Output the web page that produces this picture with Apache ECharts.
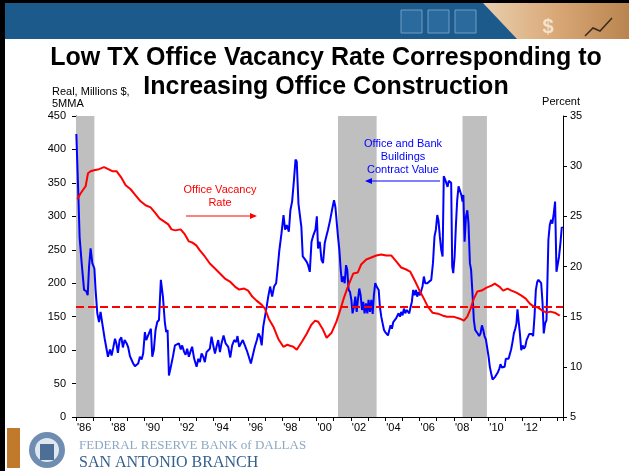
<!DOCTYPE html>
<html>
<head>
<meta charset="utf-8">
<script src="https://cdn.jsdelivr.net/npm/echarts@6/dist/echarts.min.js"></script>
<style>
  html, body { margin: 0; padding: 0; background: #fff; }
  #chart { width: 629px; height: 471px; }
</style>
</head>
<body>
<div id="chart"></div>
<script>
// years are offsets from Jan 1986
const START_YEAR = 1986;

// Office and bank buildings contract value, real millions $, 5MMA (left axis)
const contractT = [
  0.02, 0.14, 0.21, 0.33, 0.47, 0.6, 0.68, 0.76, 0.85, 0.95, 1.07, 1.14, 1.24, 1.34, 1.43, 1.53, 1.67, 1.76, 1.86, 1.98,
  2.07, 2.17, 2.27, 2.35, 2.44, 2.54, 2.64, 2.73, 2.83, 2.95, 3.04, 3.14, 3.24, 3.33, 3.43, 3.53, 3.62, 3.72, 3.82, 3.91,
  4.01, 4.09, 4.17, 4.28, 4.36, 4.44, 4.53, 4.63, 4.73, 4.83, 4.94, 5.06, 5.17, 5.25, 5.33, 5.41, 5.52, 5.64, 5.76, 5.87,
  5.99, 6.1, 6.18, 6.3, 6.38, 6.47, 6.57, 6.69, 6.76, 6.88, 7.02, 7.12, 7.21, 7.31, 7.41, 7.5, 7.6, 7.7, 7.79, 7.89,
  7.99, 8.09, 8.18, 8.28, 8.38, 8.47, 8.59, 8.71, 8.78, 8.86, 8.98, 9.09, 9.21, 9.33, 9.4, 9.5, 9.6, 9.71, 9.83, 9.95,
  10.06, 10.18, 10.29, 10.41, 10.53, 10.62, 10.72, 10.81, 10.9, 11.0, 11.1, 11.19, 11.3, 11.42, 11.53, 11.65, 11.73, 11.84, 11.96, 12.08,
  12.17, 12.27, 12.39, 12.48, 12.58, 12.68, 12.78, 12.85, 12.95, 13.05, 13.12, 13.2, 13.32, 13.43, 13.51, 13.61, 13.71, 13.82, 13.94, 14.02,
  14.09, 14.19, 14.29, 14.38, 14.48, 14.57, 14.67, 14.79, 14.9, 15.02, 15.1, 15.17, 15.25, 15.33, 15.41, 15.48, 15.56, 15.64, 15.72, 15.79,
  15.87, 15.95, 16.03, 16.1, 16.18, 16.26, 16.34, 16.41, 16.49, 16.57, 16.65, 16.72, 16.8, 16.88, 16.96, 17.03, 17.11, 17.19, 17.27, 17.34,
  17.42, 17.5, 17.62, 17.69, 17.77, 17.85, 17.93, 18.0, 18.08, 18.16, 18.24, 18.31, 18.39, 18.47, 18.55, 18.62, 18.7, 18.78, 18.86, 18.93,
  19.01, 19.09, 19.17, 19.24, 19.32, 19.4, 19.48, 19.55, 19.63, 19.71, 19.79, 19.86, 19.94, 20.02, 20.1, 20.17, 20.25, 20.33, 20.45, 20.56,
  20.68, 20.78, 20.87, 20.95, 21.03, 21.1, 21.18, 21.26, 21.34, 21.41, 21.49, 21.57, 21.63, 21.7, 21.78, 21.84, 21.9, 21.96, 22.04, 22.12,
  22.19, 22.27, 22.35, 22.43, 22.5, 22.55, 22.62, 22.7, 22.78, 22.85, 22.93, 23.0, 23.09, 23.16, 23.24, 23.32, 23.4, 23.47, 23.55, 23.63,
  23.71, 23.78, 23.86, 23.94, 24.02, 24.09, 24.17, 24.25, 24.33, 24.4, 24.48, 24.56, 24.64, 24.71, 24.79, 24.87, 24.95, 25.02, 25.1, 25.18,
  25.26, 25.33, 25.41, 25.49, 25.57, 25.64, 25.7, 25.76, 25.84, 25.92, 26.0, 26.07, 26.15, 26.23, 26.3, 26.38, 26.46, 26.54, 26.61, 26.69,
  26.77, 26.85, 26.92, 27.0, 27.08, 27.16, 27.23, 27.31, 27.39, 27.46, 27.5, 27.58, 27.66, 27.73, 27.81, 27.89, 27.97, 28.05, 28.12, 28.2,
  28.28, 28.34
];
const contractVal = [
  423, 329, 269, 230, 190, 188, 182, 225, 252, 230, 222, 190, 155, 142, 157, 140, 117, 115, 90, 101,
  92, 104, 117, 110, 96, 115, 119, 104, 115, 110, 104, 91, 89, 80, 76, 74, 80, 90, 86, 95,
  127, 115, 120, 121, 132, 90, 100, 130, 142, 145, 205, 180, 142, 127, 130, 62, 75, 90, 107, 106,
  110, 101, 107, 97, 93, 102, 90, 100, 105, 87, 75, 87, 82, 95, 90, 82, 97, 95, 102, 120,
  107, 95, 105, 115, 97, 110, 122, 110, 112, 105, 89, 107, 115, 112, 121, 105, 110, 115, 107, 99,
  90, 80, 79, 105, 115, 125, 120, 107, 135, 150, 165, 180, 195, 180, 195, 200, 220, 250, 274, 302,
  280, 287, 277, 309, 322, 352, 385, 382, 319, 317, 284, 240, 236, 232, 227, 217, 262, 272, 280, 300,
  252, 262, 235, 230, 260, 270, 280, 294, 309, 324, 314, 315, 270, 250, 220, 202, 210, 200, 227, 220,
  190, 187, 175, 155, 165, 180, 157, 175, 192, 182, 160, 172, 155, 170, 155, 175, 157, 175, 154, 182,
  200, 195, 190, 165, 150, 140, 130, 127, 125, 122, 130, 137, 132, 142, 140, 147, 145, 155, 150, 157,
  152, 162, 155, 160, 160, 155, 165, 172, 190, 182, 190, 180, 187, 182, 180, 195, 210, 200, 200, 202,
  205, 230, 270, 280, 302, 294, 270, 250, 240, 360, 355, 357, 344, 353, 352, 350, 225, 215, 240, 289,
  324, 345, 344, 332, 322, 332, 262, 299, 309, 289, 230, 220, 180, 145, 130, 127, 124, 121, 125, 137,
  130, 121, 116, 115, 90, 75, 65, 56, 55, 60, 62, 67, 72, 79, 74, 76, 75, 87, 89, 87,
  87, 101, 112, 125, 132, 140, 161, 145, 125, 100, 107, 102, 105, 115, 117, 124, 122, 124, 121, 150,
  190, 202, 205, 205, 200, 170, 125, 140, 145, 144, 265, 287, 295, 289, 304, 322, 217, 217, 240, 260,
  284, 282
];

// Texas office vacancy rate, percent (right axis)
const vacancyT = [
  0.08, 0.27, 0.56, 0.7, 0.85, 1.05, 1.34, 1.63, 1.88, 2.11, 2.36, 2.66, 2.89, 3.18, 3.47, 3.76, 4.05, 4.34, 4.59, 4.86,
  5.12, 5.37, 5.56, 5.79, 6.09, 6.34, 6.57, 6.76, 7.0, 7.21, 7.5, 7.79, 8.09, 8.38, 8.67, 8.96, 9.25, 9.5, 9.79, 10.02,
  10.26, 10.51, 10.8, 11.0, 11.22, 11.49, 11.77, 12.07, 12.3, 12.46, 12.65, 12.85, 13.15, 13.43, 13.7, 13.92, 14.1, 14.35, 14.59, 14.88,
  15.16, 15.37, 15.6, 15.85, 16.14, 16.4, 16.6, 16.9, 17.19, 17.48, 17.77, 18.06, 18.35, 18.64, 18.93, 19.22, 19.45, 19.75, 20.0, 20.25,
  20.48, 20.75, 21.07, 21.36, 21.61, 21.96, 22.35, 22.58, 22.78, 22.97, 23.16, 23.36, 23.61, 23.9, 24.19, 24.38, 24.64, 24.87, 25.12, 25.35,
  25.64, 25.93, 26.18, 26.42, 26.65, 26.9, 27.15, 27.39, 27.62, 27.87, 28.16
];
const vacancyVal = [
  26.7, 27.3, 28.0, 29.3, 29.5, 29.6, 29.7, 29.9, 29.7, 29.5, 29.5, 28.8, 28.1, 27.7, 27.1, 26.5, 26.1, 25.9, 25.4, 24.8,
  24.5, 24.2, 23.7, 23.6, 23.7, 23.2, 22.5, 22.4, 22.1, 21.6, 21.0, 20.3, 19.8, 19.3, 18.8, 18.5, 18.0, 17.7, 17.8, 17.6,
  17.0, 16.6, 16.2, 15.8, 14.8, 14.0, 12.8, 12.0, 12.2, 12.1, 12.0, 11.7, 12.5, 13.3, 14.2, 14.6, 14.5, 13.8, 12.9, 13.4,
  14.5, 15.6, 16.9, 18.1, 19.3, 19.4, 20.2, 20.7, 20.9, 21.1, 21.2, 21.1, 21.1, 20.5, 19.9, 19.7, 19.5, 18.5, 17.6, 16.8,
  16.0, 15.4, 15.3, 15.1, 15.0, 15.0, 14.8, 14.6, 15.0, 15.8, 16.8, 17.5, 17.6, 17.9, 18.1, 18.3, 18.0, 17.6, 17.8, 17.6,
  17.4, 17.1, 16.8, 16.3, 16.0, 15.9, 15.6, 15.4, 15.5, 15.4, 15.1
];

const avgVacancy = 16;

// shaded recession periods
const recessionStart = [0, 15.25, 22.5];
const recessionEnd = [1.07, 17.5, 23.92];

const FONT = '"Liberation Sans", Arial, sans-serif';

const chart = echarts.init(document.getElementById('chart'));

const contractData = contractT.map((t, i) => [START_YEAR + t, contractVal[i]]);
const vacancyData = vacancyT.map((t, i) => [START_YEAR + t, vacancyVal[i]]);
const bands = recessionStart.map((s, i) => [
  { xAxis: START_YEAR + s },
  { xAxis: START_YEAR + recessionEnd[i] }
]);

function txt(text, x, y, color, size, align, weight, family) {
  return {
    type: 'text',
    z: 50,
    style: {
      text,
      x,
      y,
      fill: color,
      font: (weight || 'normal') + ' ' + size + 'px ' + (family || FONT),
      textAlign: align || 'center',
      textVerticalAlign: 'middle'
    }
  };
}

function arrow(x1, x2, y, color) {
  const dir = x2 > x1 ? 1 : -1;
  return [
    { type: 'line', z: 50, shape: { x1, y1: y, x2: x2 - dir * 5, y2: y }, style: { stroke: color, lineWidth: 1 } },
    {
      type: 'polygon', z: 50,
      shape: { points: [[x2, y], [x2 - dir * 7, y - 3], [x2 - dir * 7, y + 3]] },
      style: { fill: color }
    }
  ];
}

const graphics = [
  // slide banner
  { type: 'rect', z: 40, shape: { x: 0, y: 0, width: 629, height: 39 }, style: { fill: '#1c5a8b' } },
  {
    type: 'polygon', z: 41,
    shape: { points: [[483, 3], [629, 3], [629, 39], [517, 39]] },
    style: {
      fill: new echarts.graphic.LinearGradient(0, 0, 1, 0, [
        { offset: 0, color: '#e9cfae' },
        { offset: 0.5, color: '#d9a877' },
        { offset: 1, color: '#b9844f' }
      ])
    }
  },
  { type: 'rect', z: 42, shape: { x: 401, y: 10, width: 21, height: 23 }, style: { fill: '#2b6a9c', stroke: '#6f9cc6', lineWidth: 1 } },
  { type: 'rect', z: 42, shape: { x: 428, y: 10, width: 21, height: 23 }, style: { fill: '#2b6a9c', stroke: '#6f9cc6', lineWidth: 1 } },
  { type: 'rect', z: 42, shape: { x: 455, y: 10, width: 21, height: 23 }, style: { fill: '#2b6a9c', stroke: '#6f9cc6', lineWidth: 1 } },
  txt('$', 548, 27, '#f4e3cc', 20, 'center', 'bold'),
  { type: 'polyline', z: 42, shape: { points: [[585, 36], [593, 28], [600, 31], [612, 18]] }, style: { stroke: '#3a2a1a', lineWidth: 1.5, fill: null } },
  { type: 'rect', z: 40, shape: { x: 0, y: 0, width: 629, height: 3 }, style: { fill: '#000' } },
  { type: 'rect', z: 40, shape: { x: 0, y: 0, width: 5, height: 471 }, style: { fill: '#000' } },

  // title
  txt('Low TX Office Vacancy Rate Corresponding to', 326, 58, '#000', 25, 'center', 'bold'),
  txt('Increasing Office Construction', 326, 87, '#000', 25, 'center', 'bold'),

  // axis names
  txt('Real, Millions $,', 52, 92, '#000', 11, 'left'),
  txt('5MMA', 52, 104, '#000', 11, 'left'),
  txt('Percent', 580, 102, '#000', 11, 'right'),

  // annotations
  txt('Office Vacancy', 220, 190, '#ff0000', 11),
  txt('Rate', 220, 203, '#ff0000', 11),
  ...arrow(186, 257, 216, '#ff0000'),
  txt('Office and Bank', 403, 144, '#0000ff', 11),
  txt('Buildings', 403, 157, '#0000ff', 11),
  txt('Contract Value', 403, 170, '#0000ff', 11),
  ...arrow(440, 365, 181, '#0000ff'),

  // footer
  { type: 'rect', z: 40, shape: { x: 7, y: 428, width: 13, height: 40 }, style: { fill: '#c17a2c' } },
  { type: 'circle', z: 40, shape: { cx: 47, cy: 450, r: 18 }, style: { fill: '#6f8db0' } },
  { type: 'circle', z: 41, shape: { cx: 47, cy: 450, r: 12 }, style: { fill: '#dfe7f0' } },
  { type: 'rect', z: 42, shape: { x: 40, y: 444, width: 14, height: 16 }, style: { fill: '#4d6f96' } },
  txt('FEDERAL RESERVE BANK of DALLAS', 79, 446, '#8ca7c4', 13, 'left', 'normal', '"Liberation Serif", serif'),
  txt('SAN ANTONIO BRANCH', 79, 463, '#34608c', 16, 'left', 'normal', '"Liberation Serif", serif')
];

const option = {
  animation: false,
  backgroundColor: '#fff',
  textStyle: { fontFamily: FONT },
  grid: { left: 76, right: 66, top: 116, bottom: 54, containLabel: false },
  xAxis: {
    type: 'value',
    min: START_YEAR,
    max: 2014.35,
    interval: 1,
    axisLine: { lineStyle: { color: '#000', width: 1 } },
    axisTick: { length: 4, lineStyle: { color: '#000' } },
    splitLine: { show: false },
    axisLabel: {
      color: '#000',
      fontSize: 11,
      margin: 5,
      align: 'left',
      padding: [0, 0, 0, 1],
      formatter: (v) => (Number.isInteger(v) && v % 2 === 0 && v <= 2012 ? "'" + String(v).slice(2) : '')
    }
  },
  yAxis: [
    {
      type: 'value',
      position: 'left',
      min: 0,
      max: 450,
      interval: 50,
      axisLine: { show: true, lineStyle: { color: '#000', width: 1 } },
      axisTick: { show: true, length: 4, lineStyle: { color: '#000' } },
      splitLine: { show: false },
      axisLabel: { color: '#000', fontSize: 11, margin: 10 }
    },
    {
      type: 'value',
      position: 'right',
      min: 5,
      max: 35,
      interval: 5,
      axisLine: { show: true, lineStyle: { color: '#000', width: 1 } },
      axisTick: { show: true, length: 4, lineStyle: { color: '#000' } },
      splitLine: { show: false },
      axisLabel: { color: '#000', fontSize: 11, margin: 7 }
    }
  ],
  series: [
    {
      name: 'Recessions',
      type: 'line',
      data: [],
      silent: true,
      markArea: {
        silent: true,
        itemStyle: { color: '#bfbfbf' },
        data: bands
      }
    },
    {
      name: 'Office and Bank Buildings Contract Value',
      type: 'line',
      yAxisIndex: 0,
      data: contractData,
      showSymbol: false,
      lineStyle: { color: '#0000ff', width: 2 },
      z: 3
    },
    {
      name: 'Office Vacancy Rate',
      type: 'line',
      yAxisIndex: 1,
      data: vacancyData,
      showSymbol: false,
      lineStyle: { color: '#ff0000', width: 2 },
      z: 4,
      markLine: {
        silent: true,
        symbol: ['none', 'none'],
        label: { show: false },
        lineStyle: { color: '#ff0000', type: [8, 4], width: 2 },
        data: [{ yAxis: avgVacancy }]
      }
    }
  ],
  graphic: graphics
};

chart.setOption(option);
</script>
</body>
</html>
